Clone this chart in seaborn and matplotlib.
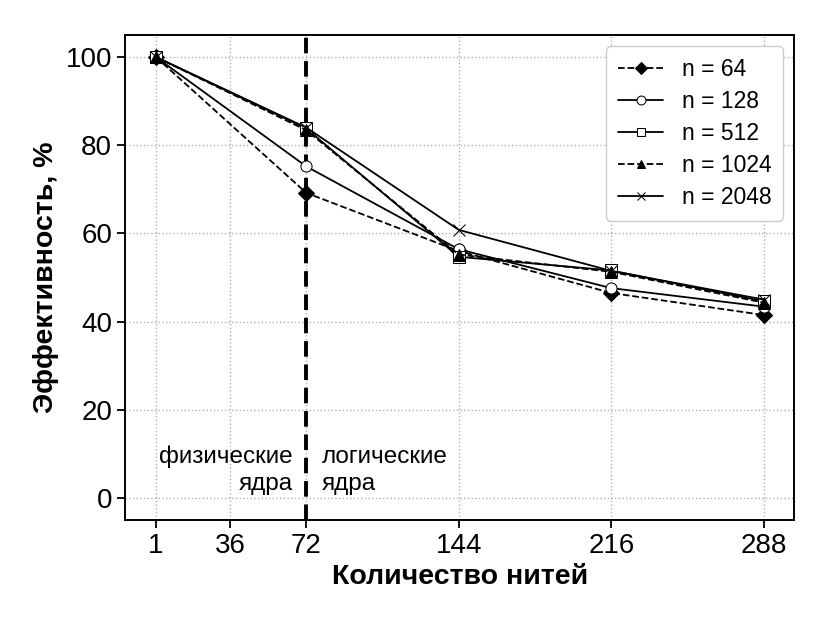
import matplotlib
matplotlib.use('Agg')
import matplotlib.pyplot as plt
import seaborn as sns
import pandas as pd

# Data
threads = [1, 72, 144, 216, 288]
eff_64 = [100, 69.2, 56.0, 46.5, 41.5]
eff_128 = [100, 75.2, 56.4, 47.6, 43.4]
eff_512 = [100, 83.8, 54.7, 51.6, 44.6]
eff_1024 = [100, 83.4, 55.2, 51.3, 44.3]
eff_2048 = [100, 84.0, 60.8, 51.5, 45.0]

labels = ['n = 64', 'n = 128', 'n = 512', 'n = 1024', 'n = 2048']
series = [eff_64, eff_128, eff_512, eff_1024, eff_2048]
markers = ['D', 'o', 's', '^', 'x']
linestyles = ['--', '-', '-', '--', '-']
facecolors = ['black', 'white', 'white', 'black', 'black']

xticks = [1, 36, 72, 144, 216, 288]
yticks = [0, 20, 40, 60, 80, 100]

sns.set_style('ticks')
plt.rcParams['font.family'] = ['Liberation Sans', 'DejaVu Sans']
plt.rcParams['text.color'] = 'black'
plt.rcParams['axes.labelcolor'] = 'black'
plt.rcParams['xtick.color'] = 'black'
plt.rcParams['ytick.color'] = 'black'

fig, ax = plt.subplots(figsize=(8.3, 6.23), dpi=100)

for lab, vals, mk, ls, fc in zip(labels, series, markers, linestyles, facecolors):
    df = pd.DataFrame({'threads': threads, 'eff': vals})
    sns.lineplot(data=df, x='threads', y='eff', ax=ax, color='black',
                 marker=mk, linestyle=ls, markerfacecolor=fc,
                 markeredgecolor='black', markersize=8, linewidth=1.3,
                 label=lab)

# Boundary between physical and logical cores
ax.axvline(72, color='black', linestyle='--', linewidth=2.8, dashes=(4, 2.0), zorder=1)
ax.text(65.5, 6.3, 'физические\nядра', ha='right', va='center', fontsize=17.5,
        linespacing=1.3)
ax.text(79.5, 6.3, 'логические\nядра', ha='left', va='center', fontsize=17.5,
        linespacing=1.3)

ax.set_xlim(-13.35, 302.35)
ax.set_ylim(-5, 105)
ax.set_xticks(xticks)
ax.set_yticks(yticks)
ax.tick_params(labelsize=20, direction='out', length=6, width=1.3)
ax.grid(True, linestyle=':', color='#b0b0b0', linewidth=1)
for sp in ax.spines.values():
    sp.set_linewidth(1.4)
    sp.set_color('black')

ax.set_xlabel('Количество нитей', fontsize=20.5, fontweight='bold', labelpad=3)
ax.set_ylabel('Эффективность, %', fontsize=20.5, fontweight='bold', labelpad=5)

leg = ax.legend(loc='upper right', fontsize=16.5, frameon=True, fancybox=True,
                framealpha=1, edgecolor='#cccccc', handlelength=2.0,
                borderpad=0.5, labelspacing=0.4, handletextpad=0.8,
                markerscale=0.8)

plt.subplots_adjust(left=0.151, right=0.957, top=0.944, bottom=0.165)
plt.savefig('out.png', dpi=100)
